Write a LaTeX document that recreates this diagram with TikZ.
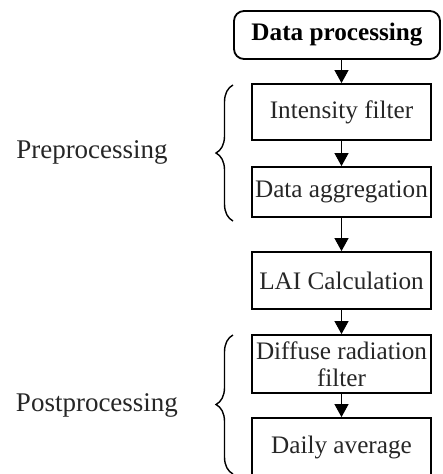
\documentclass[tikz,border=0pt]{standalone}
\usepackage{fontspec}
\setmainfont{Liberation Serif}
\usetikzlibrary{arrows.meta,decorations.pathreplacing}
\begin{document}
\begin{tikzpicture}[x=1pt,y=-1pt,
  stepbox/.style={draw,line width=1.8pt,minimum width=179pt,inner sep=0pt,align=center,
    font=\fontsize{25.2}{27}\selectfont,text=black!85},
  titlebox/.style={draw,line width=1.8pt,rounded corners=10pt,minimum width=206pt,minimum height=48pt,
    inner sep=0pt,font=\fontsize{25.2}{28}\selectfont\bfseries},
  flow/.style={line width=1pt,-{Triangle[length=13pt,width=14pt]}},
  sidebrace/.style={line width=1.4pt,decorate,decoration={brace,amplitude=17pt}},
  sidelabel/.style={font=\fontsize{27}{30}\selectfont,text=black!85}]
\useasboundingbox (0,0) rectangle (442,474);
\clip (0,0) rectangle (442,474);
\node[titlebox] (title) at (337,35) {Data processing};
\node[stepbox,minimum height=56pt] (int) at (341.5,112) {Intensity filter};
\node[stepbox,minimum height=50pt] (agg) at (341.5,192) {Data aggregation};
\node[stepbox,minimum height=57pt] (lai) at (341.5,280.5) {LAI Calculation};
\node[stepbox,minimum height=58pt] (dif) at (341.5,364) {Diffuse radiation\\filter};
\node[stepbox,minimum height=58pt] (day) at (341.5,447) {Daily average};
\draw[flow] (title.south -| int.north) -- (int.north);
\draw[flow] (int.south) -- (agg.north);
\draw[flow] (agg.south) -- (lai.north);
\draw[flow] (lai.south) -- (dif.north);
\draw[flow] (dif.south) -- (day.north);
\coordinate (preb) at (233,221);
\coordinate (pret) at (233,85);
\coordinate (postb) at (233,474);
\coordinate (postt) at (233,335);
\draw[sidebrace] (preb) -- (pret);
\draw[sidebrace] (postb) -- (postt);
\node[sidelabel] (pre) at (92,152) {Preprocessing};
\node[sidelabel] (post) at (97,405) {Postprocessing};
\end{tikzpicture}
\end{document}
